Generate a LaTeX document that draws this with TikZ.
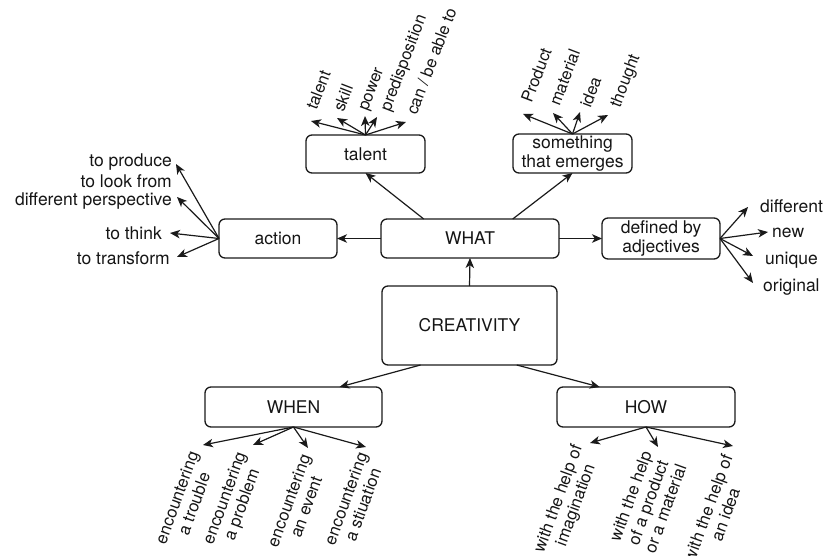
\documentclass[tikz,border=0pt]{standalone}
\usepackage{fontspec}
\setmainfont{TeX Gyre Heros}
\usetikzlibrary{arrows.meta,calc}
\definecolor{txt}{HTML}{151515}
\definecolor{ln}{HTML}{1A1A1A}
\begin{document}
\begin{tikzpicture}[x=1pt,y=-1pt,
  every node/.style={font=\fontsize{17.5}{18.5}\selectfont, text=txt},
  box/.style={draw=ln, line width=1.3pt, rounded corners=6pt, inner sep=0pt, outer sep=0pt, align=center},
  arr/.style={draw=ln, line width=1.2pt, -{Stealth[length=10pt,width=8.5pt,inset=2.8pt]}},
  leafup/.style={rotate=69, anchor=west, inner sep=0pt, font=\fontsize{16.5}{18}\selectfont},
  leafdown/.style={rotate=70, anchor=east, inner sep=0pt, align=center, font=\fontsize{16.8}{18.5}\selectfont},
  leafl/.style={anchor=east, inner sep=0pt, align=right},
  leafr/.style={anchor=west, inner sep=0pt},
]
\useasboundingbox (0,0) rectangle (826,556);

% main boxes
\node[box, minimum width=119pt, minimum height=38pt] (talent) at (365.5,154) {talent};
\node[box, minimum width=119pt, minimum height=39pt] (emerge) at (572.5,153.5) {something\\that emerges};
\node[box, minimum width=118pt, minimum height=39pt] (action) at (278,238.5) {action};
\node[box, minimum width=178pt, minimum height=39pt] (what) at (470,238.5) {WHAT};
\node[box, minimum width=118pt, minimum height=41pt] (defined) at (661,238.5) {defined by\\adjectives};
\node[box, minimum width=175pt, minimum height=79pt] (crea) at (469.5,325.5) {CREATIVITY};
\node[box, minimum width=177pt, minimum height=40pt] (when) at (293.5,407) {WHEN};
\node[box, minimum width=178pt, minimum height=40pt] (how) at (646,407) {HOW};

% main connectors
\draw[arr] (crea.north) -- (what.south);
\draw[arr] (what.west) -- (action.east);
\draw[arr] (what.east) -- (defined.west);
\draw[arr] ($(what.north west)!0.24!(what.north east)$) -- (talent.south);
\draw[arr] ($(what.north west)!0.74!(what.north east)$) -- (emerge.south);
\draw[arr] ($(crea.south west)!0.22!(crea.south east)$) -- ($(when.north west)!0.76!(when.north east)$);
\draw[arr] ($(crea.south west)!0.77!(crea.south east)$) -- ($(how.north west)!0.24!(how.north east)$);

% action leaves
\node[leafl] (a1) at (172,162) {to produce};
\node[leafl] (a2) at (172,192) {to look from\\different perspective};
\node[leafl] (a3) at (162,233) {to think};
\node[leafl] (a4) at (170,258) {to transform};
\coordinate (ta1) at (176,164);
\coordinate (ta2) at (177,197);
\coordinate (ta3) at (170,233);
\coordinate (ta4) at (177,257);
\foreach \i in {1,...,4} \draw[arr] (action.west) -- (ta\i);

% defined leaves
\node[leafr] (d1) at (760,206) {different};
\node[leafr] (d2) at (772,233) {new};
\node[leafr] (d3) at (765,260) {unique};
\node[leafr] (d4) at (763,287) {original};
\coordinate (td1) at (748,207);
\coordinate (td2) at (768,232);
\coordinate (td3) at (753,256);
\coordinate (td4) at (753,283);
\foreach \i in {1,...,4} \draw[arr] (defined.east) -- (td\i);

% talent leaves
\node[leafup] (t1) at (311,109) {talent};
\node[leafup] (t2) at (338,111) {skill};
\node[leafup] (t3) at (365,111) {power};
\node[leafup] (t4) at (386,111) {predisposition};
\node[leafup] (t5) at (411,114) {can / be able to};
\coordinate (tt1) at (311,121);
\coordinate (tt2) at (337,118);
\coordinate (tt3) at (365,116);
\coordinate (tt4) at (377,117);
\coordinate (tt5) at (406,122);
\foreach \i in {1,...,5} \draw[arr] (talent.north) -- (tt\i);

% emerge leaves
\node[leafup] (e1) at (526,102) {Product};
\node[leafup] (e2) at (554,105) {material};
\node[leafup] (e3) at (585,107) {idea};
\node[leafup] (e4) at (616,107) {thought};
\coordinate (te1) at (523,114);
\coordinate (te2) at (553,113);
\coordinate (te3) at (580,112);
\coordinate (te4) at (608,115);
\foreach \i in {1,...,4} \draw[arr] (emerge.north) -- (te\i);

% when leaves
\node[leafdown] (w1) at (202,455) {encountering\\a trouble};
\node[leafdown] (w2) at (251,456) {encountering\\a problem};
\node[leafdown] (w3) at (314,458) {encountering\\an event};
\node[leafdown] (w4) at (371,456) {encountering\\a stiuation};
\coordinate (tw1) at (203,445);
\coordinate (tw2) at (253,445);
\coordinate (tw3) at (308,448);
\coordinate (tw4) at (366,447);
\foreach \i in {1,...,4} \draw[arr] (when.south) -- (tw\i);

% how leaves
\node[leafdown] (h1) at (587,449) {with the help of\\imagination};
\node[leafdown] (h2) at (664,458) {with the help\\of a product\\or a material};
\node[leafdown] (h3) at (736,458) {with the help of\\an idea};
\coordinate (th1) at (590,443);
\coordinate (th2) at (658,447);
\coordinate (th3) at (733,446);
\foreach \i in {1,...,3} \draw[arr] (how.south) -- (th\i);
\end{tikzpicture}
\end{document}
